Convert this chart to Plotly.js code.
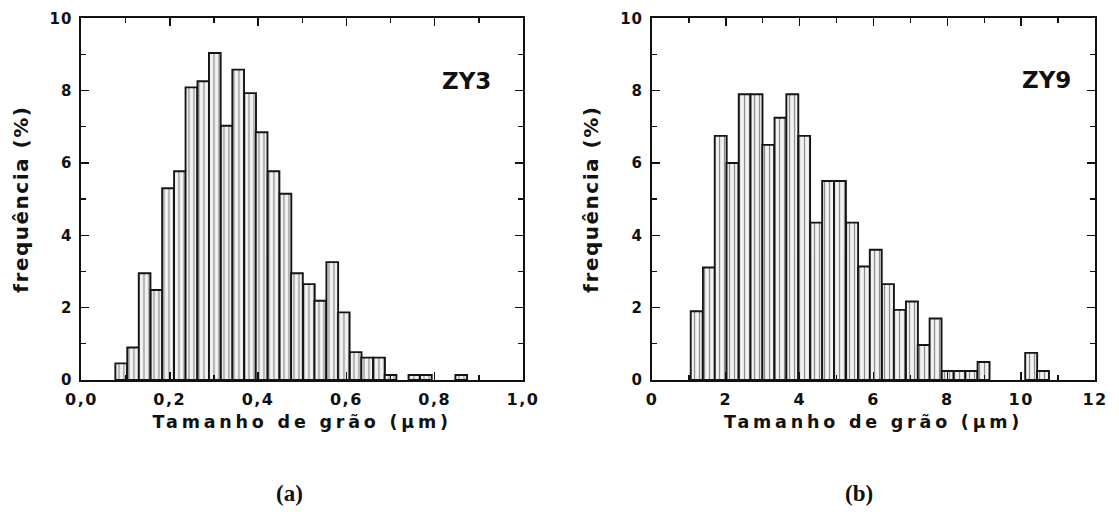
<!DOCTYPE html>
<html>
<head>
<meta charset="utf-8">
<script src="https://cdn.plot.ly/plotly-3.0.1.min.js"></script>
<style>
  html, body { margin: 0; padding: 0; background: #fff; }
  #chart { width: 1119px; height: 530px; }
  .xtick text, .x2tick text { letter-spacing: 1.5px; }
  .ytick text, .y2tick text { letter-spacing: 1px; }
  .g-xtitle text, .g-x2title text { letter-spacing: 3.8px; }
  .g-ytitle text, .g-y2title text { letter-spacing: 1.5px; }
</style>
</head>
<body>
<div id="chart"></div>
<script>
// ---- Data: panel (a) ZY3, grain size in µm ----
const zy3Centers = [0.090, 0.117, 0.143, 0.170, 0.196, 0.223, 0.249, 0.276, 0.302, 0.329,
                    0.355, 0.382, 0.408, 0.435, 0.462, 0.488, 0.515, 0.541, 0.568, 0.594,
                    0.621, 0.647, 0.674, 0.700, 0.754, 0.780, 0.860];
const zy3Freq    = [0.46, 0.90, 2.95, 2.49, 5.30, 5.77, 8.09, 8.26, 9.04, 7.03,
                    8.58, 7.93, 6.85, 5.77, 5.15, 2.95, 2.65, 2.19, 3.26, 1.87,
                    0.77, 0.62, 0.62, 0.14, 0.14, 0.14, 0.14];
const zy3BinWidth = 0.0265;

// ---- Data: panel (b) ZY9, grain size in µm ----
const zy9Centers = [1.21, 1.54, 1.86, 2.18, 2.51, 2.83, 3.15, 3.48, 3.80, 4.12,
                    4.45, 4.77, 5.09, 5.42, 5.74, 6.06, 6.39, 6.71, 7.04, 7.36,
                    7.68, 8.01, 8.33, 8.65, 8.98, 10.27, 10.59];
const zy9Freq    = [1.90, 3.11, 6.75, 6.00, 7.90, 7.90, 6.50, 7.25, 7.90, 6.75,
                    4.35, 5.50, 5.50, 4.35, 3.14, 3.60, 2.65, 1.94, 2.17, 0.97,
                    1.70, 0.25, 0.25, 0.25, 0.50, 0.75, 0.25];
const zy9BinWidth = 0.3235;

// ---- Tick labels ----
const xTicksA = [0, 0.2, 0.4, 0.6, 0.8, 1.0];
const xTickTextA = ["0,0", "0,2", "0,4", "0,6", "0,8", "1,0"];
const xTicksB = [0, 2, 4, 6, 8, 10, 12];
const xTickTextB = ["0", "2", "4", "6", "8", "10", "12"];
const yTicks = [0, 2, 4, 6, 8, 10];

const barStyle = {
  color: "rgb(236,236,236)",
  line: { color: "#151515", width: 1.9 },
  pattern: { shape: "|", fgcolor: "#8a8a8a", bgcolor: "#f3f3f3", size: 5, solidity: 0.25 }
};

const traces = [
  { type: "bar", x: zy3Centers, y: zy3Freq, width: zy3BinWidth,
    marker: barStyle, xaxis: "x", yaxis: "y", showlegend: false, hoverinfo: "x+y" },
  { type: "bar", x: zy9Centers, y: zy9Freq, width: zy9BinWidth,
    marker: barStyle, xaxis: "x2", yaxis: "y2", showlegend: false, hoverinfo: "x+y" }
];

const FAM = "DejaVu Sans, Arial, sans-serif";
const xTickFont = { family: FAM, size: 16, color: "#111", weight: "bold" };
const yTickFont = { family: FAM, size: 15, color: "#111", weight: "bold" };
const titleFont = { family: FAM, size: 17.5, color: "#111", weight: "bold" };
const yTitleFont = { family: FAM, size: 20, color: "#111", weight: "bold" };

function xAxis(domain, range, tickvals, ticktext, dtickMinor) {
  return {
    domain: domain, range: range, tickmode: "array", tickvals: tickvals, ticktext: ticktext,
    ticks: "inside", ticklen: 8, tickwidth: 1.5, tickcolor: "#111",
    minor: { dtick: dtickMinor, ticks: "inside", ticklen: 5, tickwidth: 1.3, tickcolor: "#111" },
    showline: true, linecolor: "#111", linewidth: 2, mirror: "ticks",
    showgrid: false, zeroline: false, tickfont: xTickFont, automargin: false,
    ticklabelstandoff: 4,
    title: { text: "Tamanho de grão (μm)", font: titleFont, standoff: 8 }
  };
}
function yAxis(anchor) {
  return {
    domain: [0.283, 0.9655], range: [0, 10], tickmode: "array", tickvals: yTicks,
    ticks: "inside", ticklen: 8, tickwidth: 1.5, tickcolor: "#111",
    minor: { dtick: 1, ticks: "inside", ticklen: 5, tickwidth: 1.3, tickcolor: "#111" },
    showline: true, linecolor: "#111", linewidth: 2, mirror: "ticks",
    showgrid: false, zeroline: false, tickfont: yTickFont, automargin: false,
    ticklabelstandoff: 4,
    anchor: anchor,
    title: { text: "frequência (%)", font: yTitleFont, standoff: 16 }
  };
}

const layout = {
  width: 1119, height: 530,
  margin: { l: 0, r: 0, t: 0, b: 0 },
  paper_bgcolor: "#fff", plot_bgcolor: "#fff",
  bargap: 0,
  xaxis: Object.assign(xAxis([0.0728, 0.4674], [0, 1.0], xTicksA, xTickTextA, 0.1), { anchor: "y" }),
  yaxis: yAxis("x"),
  xaxis2: Object.assign(xAxis([0.5827, 0.9786], [0, 12], xTicksB, xTickTextB, 1), { anchor: "y2" }),
  yaxis2: yAxis("x2"),
  annotations: [
    { text: "ZY3", xref: "x", yref: "y", x: 0.873, y: 8.26, xanchor: "center", yanchor: "middle",
      showarrow: false, font: { family: FAM, size: 23, color: "#111", weight: "bold" } },
    { text: "ZY9", xref: "x2", yref: "y2", x: 10.68, y: 8.29, xanchor: "center", yanchor: "middle",
      showarrow: false, font: { family: FAM, size: 23, color: "#111", weight: "bold" } },
    { text: "(a)", xref: "paper", yref: "paper", x: 289 / 1119, y: 1 - 493 / 530,
      xanchor: "center", yanchor: "middle", showarrow: false,
      font: { family: "Liberation Serif, Times New Roman, serif", size: 23, color: "#111", weight: "bold" } },
    { text: "(b)", xref: "paper", yref: "paper", x: 859 / 1119, y: 1 - 493 / 530,
      xanchor: "center", yanchor: "middle", showarrow: false,
      font: { family: "Liberation Serif, Times New Roman, serif", size: 23, color: "#111", weight: "bold" } }
  ]
};

Plotly.newPlot("chart", traces, layout, { displayModeBar: false, staticPlot: true });
</script>
</body>
</html>
